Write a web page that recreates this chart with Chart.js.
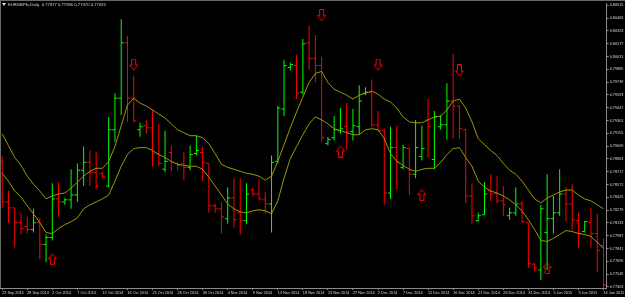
<!DOCTYPE html>
<html>
<head>
<meta charset="utf-8">
<script src="https://cdn.jsdelivr.net/npm/chart.js@4.4.1/dist/chart.umd.min.js"></script>
<style>
  html, body { margin: 0; padding: 0; background: #000; }
  canvas { display: block; }
</style>
</head>
<body>
<canvas id="chart" width="625" height="297"></canvas>
<script>
// EURGBP daily bars, 23 Sep 2014 - 14 Jan 2015 (broker with Sunday bars)
const dates = [
  '23 Sep 2014','24 Sep 2014','25 Sep 2014','26 Sep 2014','28 Sep 2014','29 Sep 2014','30 Sep 2014',
  '1 Oct 2014','2 Oct 2014','3 Oct 2014','5 Oct 2014','6 Oct 2014','7 Oct 2014','8 Oct 2014','9 Oct 2014',
  '10 Oct 2014','12 Oct 2014','13 Oct 2014','14 Oct 2014','15 Oct 2014','16 Oct 2014','17 Oct 2014',
  '19 Oct 2014','20 Oct 2014','21 Oct 2014','22 Oct 2014','23 Oct 2014','24 Oct 2014','26 Oct 2014',
  '27 Oct 2014','28 Oct 2014','29 Oct 2014','30 Oct 2014','31 Oct 2014',
  '2 Nov 2014','3 Nov 2014','4 Nov 2014','5 Nov 2014','6 Nov 2014','7 Nov 2014','9 Nov 2014','10 Nov 2014',
  '11 Nov 2014','12 Nov 2014','13 Nov 2014','14 Nov 2014','16 Nov 2014','17 Nov 2014','18 Nov 2014',
  '19 Nov 2014','20 Nov 2014','21 Nov 2014','23 Nov 2014','24 Nov 2014','25 Nov 2014','26 Nov 2014',
  '27 Nov 2014','28 Nov 2014','30 Nov 2014',
  '1 Dec 2014','2 Dec 2014','3 Dec 2014','4 Dec 2014','5 Dec 2014','7 Dec 2014','8 Dec 2014','9 Dec 2014',
  '10 Dec 2014','11 Dec 2014','12 Dec 2014','14 Dec 2014','15 Dec 2014','16 Dec 2014','17 Dec 2014',
  '18 Dec 2014','19 Dec 2014','21 Dec 2014','22 Dec 2014','23 Dec 2014','24 Dec 2014','26 Dec 2014',
  '28 Dec 2014','29 Dec 2014','30 Dec 2014','31 Dec 2014',
  '1 Jan 2015','2 Jan 2015','4 Jan 2015','5 Jan 2015','6 Jan 2015','7 Jan 2015','8 Jan 2015','9 Jan 2015',
  '11 Jan 2015','12 Jan 2015','13 Jan 2015','14 Jan 2015'
];

const open = [
  0.78835,0.78373,0.78305,0.78136,0.78091,0.78058,0.78136,0.77888,0.77967,0.78407,
  0.78373,0.78396,0.78452,0.78734,0.78824,0.78711,0.78699,0.78553,0.79196,0.79556,
  0.80187,0.79556,0.79196,0.79241,0.79218,0.78924,0.78745,0.78936,0.78812,0.78812,
  0.78767,0.78924,0.78936,0.78812,0.78328,0.78294,0.78181,0.78418,0.78248,0.78159,
  0.78508,0.78463,0.78396,0.78350,0.78835,0.79432,0.79906,0.79928,0.79624,0.80187,
  0.80006,0.79928,0.79037,0.79105,0.79185,0.79230,0.79173,0.79230,0.79613,0.79624,
  0.79252,0.79185,0.78474,0.78992,0.78767,0.78981,0.78688,0.78891,0.79308,0.78857,
  0.79230,0.79252,0.79523,0.79466,0.79196,0.78441,0.78159,0.78226,0.78497,0.78463,
  0.78384,0.78215,0.78248,0.78350,0.78136,0.77663,0.77595,0.78023,0.78181,0.78248,
  0.78463,0.78350,0.78159,0.78035,0.78136,0.78012,0.77877
];
const high = [
  0.78891,0.78497,0.78305,0.78237,0.78203,0.78294,0.78192,0.78001,0.78586,0.78598,
  0.78418,0.78745,0.78812,0.79004,0.78959,0.78947,0.78711,0.79342,0.79613,0.80457,
  0.80266,0.79815,0.79275,0.79308,0.79421,0.79263,0.79185,0.79015,0.78824,0.78947,
  0.79015,0.79128,0.79004,0.78812,0.78350,0.78373,0.78541,0.78643,0.78643,0.78586,
  0.78530,0.78632,0.78486,0.78902,0.79466,0.79995,0.79962,0.80051,0.80232,0.80379,
  0.80277,0.80029,0.79117,0.79353,0.79443,0.79500,0.79432,0.79702,0.79680,0.79770,
  0.79410,0.79207,0.79230,0.79241,0.79026,0.78992,0.79308,0.79241,0.79545,0.79410,
  0.79364,0.79725,0.80063,0.79477,0.79207,0.78586,0.78248,0.78598,0.78688,0.78666,
  0.78553,0.78305,0.78541,0.78384,0.78136,0.77674,0.78339,0.78688,0.78441,0.78745,
  0.78541,0.78575,0.78248,0.78159,0.78305,0.78237,0.77956
];
const low = [
  0.78305,0.78136,0.77854,0.78001,0.78012,0.78023,0.77719,0.77685,0.77933,0.78203,
  0.78339,0.78294,0.78373,0.78553,0.78553,0.78519,0.78643,0.78541,0.79060,0.79364,
  0.79286,0.79286,0.79117,0.79150,0.78779,0.78779,0.78711,0.78722,0.78734,0.78621,
  0.78734,0.78902,0.78609,0.78248,0.78248,0.78012,0.78125,0.78080,0.78001,0.78125,
  0.78441,0.78396,0.78237,0.78023,0.78812,0.79353,0.79872,0.79545,0.79601,0.79883,
  0.79736,0.79060,0.79015,0.79072,0.79150,0.78970,0.79072,0.79139,0.79590,0.79230,
  0.79173,0.78339,0.78407,0.78519,0.78745,0.78452,0.78643,0.78846,0.78879,0.78745,
  0.79196,0.79083,0.79094,0.79094,0.78361,0.78125,0.78148,0.78226,0.78384,0.78361,
  0.78215,0.78170,0.78215,0.78136,0.77618,0.77584,0.77482,0.77595,0.78012,0.78215,
  0.78148,0.78046,0.77854,0.78023,0.77854,0.77572,0.77370
];
const close = [
  0.78373,0.78305,0.78136,0.78069,0.78058,0.78136,0.77888,0.77967,0.78407,0.78373,
  0.78396,0.78452,0.78734,0.78824,0.78711,0.78553,0.78666,0.79196,0.79556,0.80187,
  0.79556,0.79297,0.79230,0.79218,0.78924,0.78812,0.78835,0.78824,0.78790,0.78767,
  0.78913,0.78959,0.78824,0.78328,0.78294,0.78203,0.78418,0.78170,0.78159,0.78463,
  0.78463,0.78407,0.78350,0.78824,0.79443,0.79928,0.79939,0.79613,0.80176,0.80006,
  0.79928,0.79105,0.79083,0.79196,0.79207,0.79173,0.79241,0.79523,0.79624,0.79252,
  0.79185,0.78474,0.78992,0.78824,0.78992,0.78688,0.78992,0.78981,0.79230,0.79342,
  0.79252,0.79523,0.79466,0.79207,0.78441,0.78215,0.78215,0.78463,0.78463,0.78384,
  0.78339,0.78248,0.78350,0.78148,0.77674,0.77618,0.78294,0.78181,0.78248,0.78463,
  0.78350,0.78170,0.78012,0.78148,0.78012,0.77820,0.77426
];

// channel lines (upper / lower moving averages)
const maUpper = [
  0.79150,0.79015,0.78879,0.78790,0.78666,0.78575,0.78497,0.78407,0.78441,0.78463,
  0.78474,0.78530,0.78598,0.78666,0.78722,0.78756,0.78756,0.78835,0.79004,0.79241,
  0.79477,0.79556,0.79500,0.79466,0.79421,0.79375,0.79330,0.79263,0.79196,0.79162,
  0.79128,0.79128,0.79105,0.79037,0.78924,0.78801,0.78767,0.78745,0.78722,0.78699,
  0.78688,0.78666,0.78621,0.78666,0.78835,0.79026,0.79218,0.79398,0.79568,0.79736,
  0.79838,0.79861,0.79736,0.79657,0.79624,0.79590,0.79545,0.79590,0.79613,0.79635,
  0.79601,0.79545,0.79511,0.79443,0.79342,0.79286,0.79275,0.79275,0.79308,0.79342,
  0.79353,0.79421,0.79523,0.79545,0.79443,0.79286,0.79094,0.79026,0.78959,0.78902,
  0.78812,0.78734,0.78688,0.78609,0.78508,0.78407,0.78361,0.78418,0.78452,0.78486,
  0.78508,0.78508,0.78452,0.78407,0.78384,0.78339,0.78294
];
const maLower = [
  0.78699,0.78609,0.78497,0.78429,0.78328,0.78237,0.78136,0.78023,0.78012,0.78069,
  0.78114,0.78148,0.78192,0.78294,0.78339,0.78373,0.78407,0.78452,0.78609,0.78779,
  0.78913,0.78981,0.78992,0.78992,0.78959,0.78913,0.78879,0.78835,0.78801,0.78790,
  0.78779,0.78779,0.78745,0.78654,0.78553,0.78452,0.78350,0.78294,0.78260,0.78248,
  0.78271,0.78283,0.78271,0.78237,0.78384,0.78643,0.78868,0.79004,0.79139,0.79263,
  0.79342,0.79308,0.79263,0.79207,0.79185,0.79162,0.79139,0.79139,0.79196,0.79207,
  0.79196,0.79094,0.78924,0.78835,0.78790,0.78745,0.78722,0.78745,0.78756,0.78756,
  0.78824,0.78913,0.78981,0.78992,0.78879,0.78779,0.78609,0.78541,0.78497,0.78474,
  0.78441,0.78396,0.78339,0.78271,0.78170,0.78058,0.77933,0.77922,0.77956,0.78001,
  0.78046,0.78035,0.78012,0.78001,0.77979,0.77911,0.77843
];

// signal arrows: bar index and price level
const upArrowBars = [8, 54, 67, 87];
const upArrowPrices = [0.77719, 0.78947, 0.78452, 0.77618];
const downArrowBars = [21, 51, 60, 73];
const downArrowPrices = [0.79939, 0.80503, 0.79939, 0.79872];

// price axis labels
const yTicks = [
  0.80615,0.80469,0.80323,0.80177,0.80031,0.79885,0.79739,0.79593,0.79447,0.79301,0.79155,0.79009,
  0.78863,0.78717,0.78571,0.78425,0.78279,0.78133,0.77987,0.77841,0.77695,0.77549,0.77403
];

const UP = '#00ff00', DOWN = '#ff0000', MA = '#9a9a00', AXIS = '#8a8a8a', TEXT = '#d8d8d8';
const barColors = close.map((c, i) => c >= open[i] ? UP : DOWN);
const last = close.length - 1;

function arrowIcon(up) {
  const c = document.createElement('canvas');
  c.width = 9; c.height = 12;
  const g = c.getContext('2d');
  const pts = [[4.5,0.5],[8.5,5.5],[6.5,5.5],[6.5,11.5],[2.5,11.5],[2.5,5.5],[0.5,5.5]];
  g.strokeStyle = DOWN;
  g.lineWidth = 1;
  g.beginPath();
  pts.forEach(([x, y], k) => {
    const yy = up ? y : 12 - y;
    if (k === 0) g.moveTo(x, yy); else g.lineTo(x, yy);
  });
  g.closePath();
  g.stroke();
  return c;
}

const frame = {
  id: 'frame',
  beforeDraw(chart) {
    const ctx = chart.ctx;
    ctx.save();
    ctx.fillStyle = '#000';
    ctx.fillRect(0, 0, chart.width, chart.height);
    ctx.restore();
  },
  afterDraw(chart) {
    const ctx = chart.ctx, a = chart.chartArea;
    ctx.save();
    ctx.fillStyle = '#6a6a6a';
    ctx.fillRect(0, 0, chart.width, 1);
    ctx.fillRect(0, 0, 1, a.bottom);
    // symbol caption
    ctx.fillStyle = TEXT;
    ctx.beginPath();
    ctx.moveTo(2, 3); ctx.lineTo(6, 3); ctx.lineTo(4, 6); ctx.closePath();
    ctx.fill();
    ctx.font = '4.2px "Liberation Sans"';
    ctx.textBaseline = 'middle';
    ctx.fillText('EURGBPfx,Daily  ' + [open[last], high[last], low[last], close[last]].map(v => v.toFixed(5)).join(' '), 8, 4.5);
    ctx.restore();
  }
};

const tickFont = { family: 'Liberation Sans', size: 3.8 };

new Chart(document.getElementById('chart').getContext('2d'), {
  type: 'bar',
  data: {
    datasets: [
      {
        type: 'line', label: 'upper', order: 1,
        data: maUpper.map((v, i) => ({ x: i, y: v })),
        borderColor: MA, borderWidth: 1, pointRadius: 0, tension: 0
      },
      {
        type: 'line', label: 'lower', order: 1,
        data: maLower.map((v, i) => ({ x: i, y: v })),
        borderColor: MA, borderWidth: 1, pointRadius: 0, tension: 0
      },
      {
        type: 'bar', label: 'range', order: 3,
        data: high.map((h, i) => ({ x: i, y: [low[i], h] })),
        backgroundColor: barColors, barThickness: 1, grouped: false, inflateAmount: 0, borderWidth: 0
      },
      {
        type: 'line', label: 'open', order: 2, showLine: false,
        data: open.map((v, i) => ({ x: i - 0.22, y: v })),
        pointStyle: 'line', pointRadius: 1.3, pointBorderWidth: 1, pointBorderColor: barColors
      },
      {
        type: 'line', label: 'close', order: 2, showLine: false,
        data: close.map((v, i) => ({ x: i + 0.22, y: v })),
        pointStyle: 'line', pointRadius: 1.3, pointBorderWidth: 1, pointBorderColor: barColors
      },
      {
        type: 'line', label: 'buy', order: 0, showLine: false,
        data: upArrowBars.map((b, k) => ({ x: b, y: upArrowPrices[k] })),
        pointStyle: arrowIcon(true), pointRadius: 6
      },
      {
        type: 'line', label: 'sell', order: 0, showLine: false,
        data: downArrowBars.map((b, k) => ({ x: b, y: downArrowPrices[k] })),
        pointStyle: arrowIcon(false), pointRadius: 6
      }
    ]
  },
  options: {
    responsive: false,
    animation: false,
    events: [],
    layout: { padding: 0, autoPadding: false },
    plugins: { legend: { display: false }, tooltip: { enabled: false } },
    scales: {
      x: {
        type: 'linear', offset: false, min: -0.351, max: 96.506,
        grid: { display: true, drawOnChartArea: false, drawTicks: true, tickLength: 2, color: AXIS, offset: false },
        border: { display: true, color: AXIS },
        afterBuildTicks: s => { s.ticks = dates.map((d, i) => i).filter(i => i % 4 === 0).map(v => ({ value: v })); },
        afterFit: s => { s.height = 9; },
        ticks: {
          color: TEXT, font: tickFont, align: 'start', maxRotation: 0, autoSkip: false, padding: 0.5,
          callback: v => dates[v] || ''
        }
      },
      y: {
        type: 'linear', position: 'right', min: 0.77391, max: 0.80638, beginAtZero: false,
        grid: { display: true, drawOnChartArea: false, drawTicks: true, tickLength: 2, color: AXIS },
        border: { display: true, color: AXIS },
        afterBuildTicks: s => { s.ticks = yTicks.map(v => ({ value: v })); },
        afterFit: s => { s.width = 18; },
        ticks: { color: TEXT, font: tickFont, padding: 1, callback: v => v.toFixed(5) }
      }
    }
  },
  plugins: [frame]
});
</script>
</body>
</html>
